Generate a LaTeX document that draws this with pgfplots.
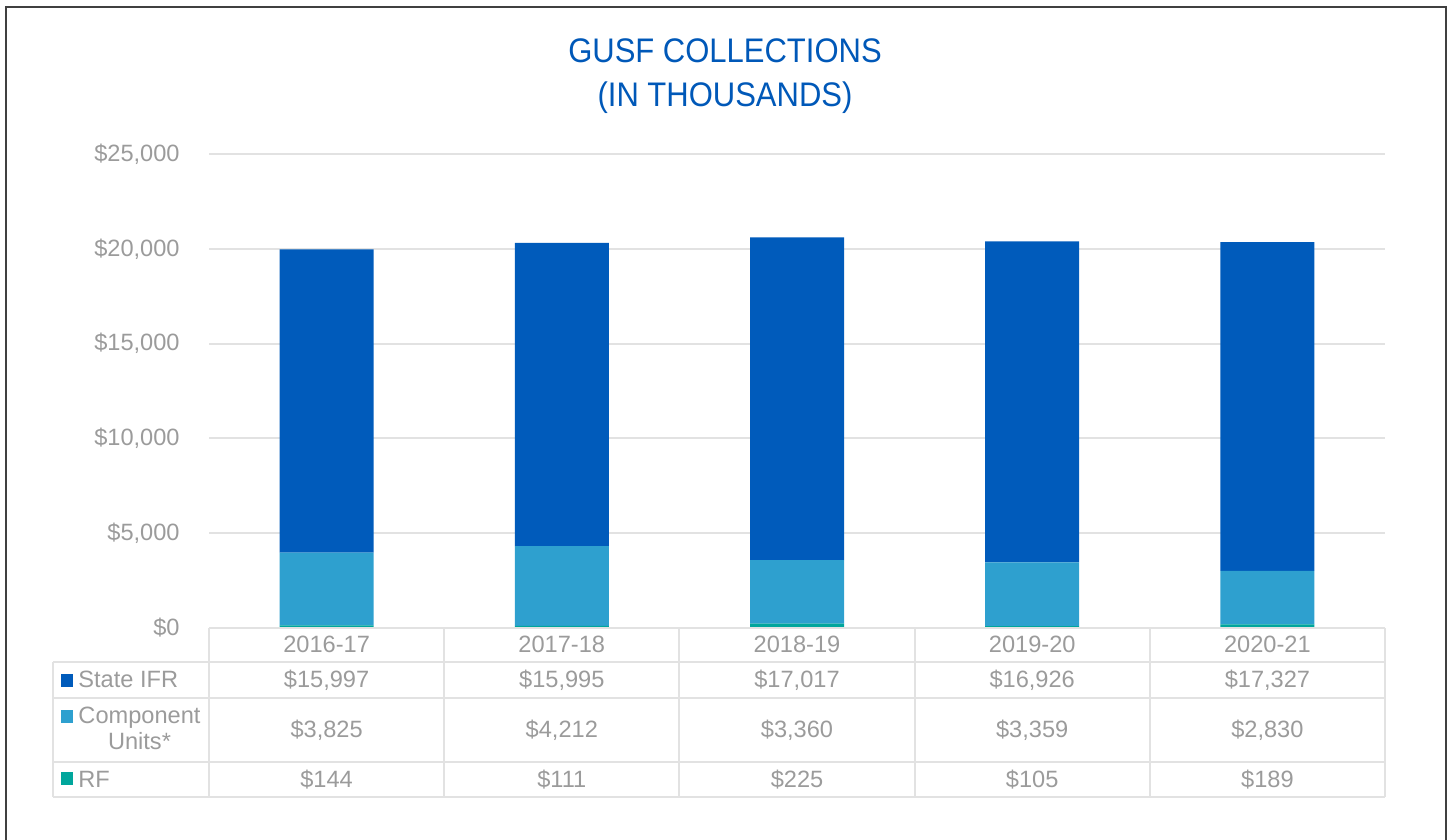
\documentclass[border=0pt]{standalone}
\usepackage{pgfplots}
\pgfplotsset{compat=1.18}
\usepackage{fontspec}
\setmainfont{Liberation Sans}
\definecolor{sifr}{RGB}{0,91,187}
\definecolor{cu}{RGB}{46,160,207}
\definecolor{rf}{RGB}{0,166,156}
\definecolor{txt}{RGB}{155,155,155}
\definecolor{gridc}{RGB}{226,226,226}
\definecolor{ttl}{RGB}{0,88,184}
\definecolor{frame}{RGB}{64,64,64}
\newcommand{\tfont}{\fontsize{11.8}{14}\selectfont}
\begin{document}
\begin{tikzpicture}
\path[use as bounding box] (0,0) rectangle (726pt,420pt);
\begin{axis}[
  at={(104.5pt,106pt)}, anchor=south west,
  scale only axis, width=588pt, height=237pt,
  ybar stacked, bar width=47pt,
  xmin=-0.5, xmax=4.5, ymin=0, ymax=25000,
  xtick=\empty,
  scaled y ticks=false,
  ytick={0,5000,10000,15000,20000,25000},
  yticklabels={{\$0},{\$5,000},{\$10,000},{\$15,000},{\$20,000},{\$25,000}},
  ymajorgrids, grid style={gridc, line width=1pt},
  axis line style={draw=none}, major tick length=0pt,
  yticklabel style={font=\tfont, text=txt, inner sep=0pt, anchor=east, xshift=-14.5pt},
  clip=false,
]
\addplot[fill=rf, draw=none] coordinates {(0,144) (1,111) (2,225) (3,105) (4,189)};
\addplot[fill=cu, draw=none] coordinates {(0,3825) (1,4212) (2,3360) (3,3359) (4,2830)};
\addplot[fill=sifr, draw=none] coordinates {(0,15997) (1,15995) (2,17017) (3,16926) (4,17327)};
\end{axis}
\begin{scope}[x=0.5pt, y=-0.5pt, shift={(0pt,420pt)}]
  % frame
  \draw[frame, line width=1pt] (6,842) -- (6,7) -- (1446,7) -- (1446,842);
  % title
  \node[anchor=base, text=ttl, font=\fontsize{15.5}{18}\selectfont, inner sep=0pt, yscale=1.1] at (725,63) {GUSF COLLECTIONS};
  \node[anchor=base, text=ttl, font=\fontsize{15.5}{18}\selectfont, inner sep=0pt, yscale=1.1] at (725,107) {(IN THOUSANDS)};
  % table grid
  \begin{scope}[gridc, line width=1pt]
    \draw (209,628) -- (1385,628);
    \draw (53,662) -- (1385,662);
    \draw (53,698) -- (1385,698);
    \draw (53,762) -- (1385,762);
    \draw (53,797) -- (1385,797);
    \draw (53,662) -- (53,797);
    \foreach \k in {0,...,5} { \draw ({209+235.2*\k},628) -- ({209+235.2*\k},797); }
  \end{scope}
  % legend keys
  \fill[sifr] (61,674) rectangle (73,687);
  \fill[cu] (61,710) rectangle (73,723);
  \fill[rf] (61,772) rectangle (73,785);
  \begin{scope}[every node/.style={font=\tfont, text=txt, inner sep=0pt}]
    \node[anchor=base west] at (78,688) {State IFR};
    \node[anchor=base] at (139.5,724) {Component};
    \node[anchor=base] at (139.5,750) {Units*};
    \node[anchor=base west] at (78,788) {RF};
    \foreach \yr [count=\i from 0] in {2016-17,2017-18,2018-19,2019-20,2020-21}
      \node[anchor=base] at ({326.6+235.2*\i},653) {\yr};
    \foreach \v [count=\i from 0] in {{\$15,997},{\$15,995},{\$17,017},{\$16,926},{\$17,327}}
      \node[anchor=base] at ({326.6+235.2*\i},688) {\v};
    \foreach \v [count=\i from 0] in {{\$3,825},{\$4,212},{\$3,360},{\$3,359},{\$2,830}}
      \node[anchor=base] at ({326.6+235.2*\i},738) {\v};
    \foreach \v [count=\i from 0] in {{\$144},{\$111},{\$225},{\$105},{\$189}}
      \node[anchor=base] at ({326.6+235.2*\i},788) {\v};
  \end{scope}
\end{scope}
\end{tikzpicture}
\end{document}
